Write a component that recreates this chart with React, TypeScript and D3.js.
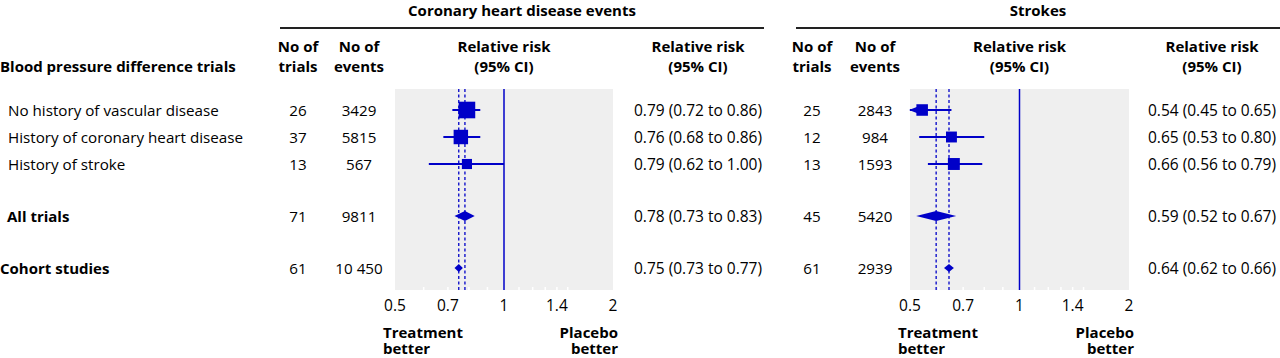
import React from "react";
import * as d3 from "d3";

const categories = [
  "No history of vascular disease",
  "History of coronary heart disease",
  "History of stroke",
  "All trials",
  "Cohort studies",
];
const rowKinds = ["square", "square", "square", "diamond", "diamond"];
const boldRows = [false, false, false, true, true];

const chdTrials = [26, 37, 13, 71, 61];
const chdEvents = [3429, 5815, 567, 9811, 10450];
const chdRR = [0.79, 0.76, 0.79, 0.78, 0.75];
const chdLo = [0.72, 0.68, 0.62, 0.73, 0.73];
const chdHi = [0.86, 0.86, 1.0, 0.83, 0.77];

const strokeTrials = [25, 12, 13, 45, 61];
const strokeEvents = [2843, 984, 1593, 5420, 2939];
const strokeRR = [0.54, 0.65, 0.66, 0.59, 0.64];
const strokeLo = [0.45, 0.53, 0.56, 0.52, 0.62];
const strokeHi = [0.65, 0.8, 0.79, 0.67, 0.66];

const tickValues = [0.5, 0.7, 1, 1.4, 2];
const minorTicks = [0.6, 0.7, 0.8, 0.9, 1.1, 1.2, 1.3, 1.4, 1.5];
const domain: [number, number] = [0.5, 2];

const FONT = "'Open Sans', Lato, sans-serif";
const BOLD_SIZE = 15;
const BODY_SIZE = 15.2;
const NUM_SIZE = 15.5;
const BLUE = "#0000c8";

const rowY = [110, 137, 164, 216, 268];
const plotTop = 89;
const plotBottom = 290;

const fmtEvents = (n: number) =>
  n >= 10000 ? d3.format(",")(n).replace(/,/g, " ") : String(n);
const f2 = d3.format(".2f");

function TwoLine(props: { x: number; y: number; gap: number; a: string; b: string; anchor: string }) {
  return (
    <text x={props.x} y={props.y} textAnchor={props.anchor} dominantBaseline="central" fontWeight={700} fontSize={BOLD_SIZE}>
      <tspan x={props.x} y={props.y}>{props.a}</tspan>
      <tspan x={props.x} y={props.y + props.gap}>{props.b}</tspan>
    </text>
  );
}

type PanelProps = {
  title: string;
  lineX0: number;
  lineX1: number;
  trialsX: number;
  eventsX: number;
  x0: number;
  x1: number;
  rrTextX: number;
  trials: number[];
  events: number[];
  rr: number[];
  lo: number[];
  hi: number[];
};

function Panel(p: PanelProps) {
  const x = d3.scaleLog().domain(domain).range([p.x0, p.x1]);
  const [dmin, dmax] = domain;
  const sizeOf = (i: number) => 7 * Math.sqrt(1 / Math.log(p.hi[i] / p.lo[i]));
  const headers: [number, string, string][] = [
    [p.trialsX, "No of", "trials"],
    [p.eventsX, "No of", "events"],
    [x(1), "Relative risk", "(95% CI)"],
    [p.rrTextX, "Relative risk", "(95% CI)"],
  ];
  return (
    <g>
      <text x={(p.lineX0 + p.lineX1) / 2} y={10} textAnchor="middle" dominantBaseline="central" fontWeight={700} fontSize={BOLD_SIZE}>
        {p.title}
      </text>
      <line x1={p.lineX0} x2={p.lineX1} y1={28} y2={28} stroke="#222" strokeWidth={2} />
      {headers.map(([cx, a, b], i) => (
        <TwoLine key={i} x={cx} y={46} gap={20} a={a} b={b} anchor="middle" />
      ))}
      <rect x={x(dmin)} y={plotTop} width={x(dmax) - x(dmin)} height={plotBottom - plotTop} fill="#efefef" />
      {minorTicks.map((v) => (
        <line key={v} x1={x(v)} x2={x(v)} y1={plotBottom - 3} y2={plotBottom} stroke="#fff" strokeWidth={1.5} />
      ))}
      <line x1={x(1)} x2={x(1)} y1={plotTop} y2={plotBottom} stroke={BLUE} strokeWidth={1.5} />
      {[3, 4].map((i) => (
        <line key={i} x1={x(p.rr[i])} x2={x(p.rr[i])} y1={plotTop} y2={plotBottom} stroke={BLUE} strokeWidth={1.3} strokeDasharray="3,2.5" />
      ))}
      {categories.map((c, i) => {
        const y = rowY[i];
        const lo = Math.max(p.lo[i], dmin);
        const hi = Math.min(p.hi[i], dmax);
        if (rowKinds[i] === "square") {
          const s = sizeOf(i);
          return (
            <g key={c}>
              <line x1={x(lo)} x2={x(hi)} y1={y} y2={y} stroke={BLUE} strokeWidth={2} />
              {p.lo[i] < dmin && (
                <path d={`M${x(dmin) - 1},${y} L${x(dmin) + 8},${y - 3.5} L${x(dmin) + 8},${y + 3.5} Z`} fill={BLUE} />
              )}
              <rect x={x(p.rr[i]) - s / 2} y={y - s / 2} width={s} height={s} fill={BLUE} />
            </g>
          );
        }
        const h = i === 3 ? 5 : 4;
        return (
          <path
            key={c}
            d={`M${x(lo)},${y} L${x(p.rr[i])},${y - h} L${x(hi)},${y} L${x(p.rr[i])},${y + h} Z`}
            fill={BLUE}
          />
        );
      })}
      {categories.map((c, i) => (
        <g key={c} fontSize={BODY_SIZE}>
          <text x={p.trialsX} y={rowY[i]} textAnchor="middle" dominantBaseline="central">{p.trials[i]}</text>
          <text x={p.eventsX} y={rowY[i]} textAnchor="middle" dominantBaseline="central">{fmtEvents(p.events[i])}</text>
          <text x={p.rrTextX} y={rowY[i]} textAnchor="middle" dominantBaseline="central" fontSize={NUM_SIZE}>
            {`${f2(p.rr[i])} (${f2(p.lo[i])} to ${f2(p.hi[i])})`}
          </text>
        </g>
      ))}
      {tickValues.map((v) => (
        <text key={v} x={x(v)} y={305} textAnchor="middle" dominantBaseline="central" fontSize={NUM_SIZE}>
          {String(v)}
        </text>
      ))}
      <TwoLine x={x(dmin) - 12} y={332} gap={16} a="Treatment" b="better" anchor="start" />
      <TwoLine x={x(dmax) + 5} y={332} gap={16} a="Placebo" b="better" anchor="end" />
    </g>
  );
}

export default function App() {
  return (
    <svg
      width={1280}
      height={358}
      style={{ position: "absolute", left: 0, top: 0, background: "#fff" }}
      fontFamily={FONT}
      fill="#000"
    >
      <text x={0} y={66} fontWeight={700} fontSize={BOLD_SIZE} dominantBaseline="central">
        Blood pressure difference trials
      </text>
      {categories.map((c, i) => (
        <text
          key={c}
          x={i < 3 ? 8 : i === 3 ? 7 : 0}
          y={rowY[i]}
          fontWeight={boldRows[i] ? 700 : 400}
          fontSize={boldRows[i] ? BOLD_SIZE : BODY_SIZE}
          dominantBaseline="central"
        >
          {c}
        </text>
      ))}
      <Panel
        title="Coronary heart disease events"
        lineX0={280}
        lineX1={764}
        trialsX={298}
        eventsX={359}
        x0={395}
        x1={613}
        rrTextX={698}
        trials={chdTrials}
        events={chdEvents}
        rr={chdRR}
        lo={chdLo}
        hi={chdHi}
      />
      <Panel
        title="Strokes"
        lineX0={796}
        lineX1={1280}
        trialsX={812}
        eventsX={875}
        x0={910}
        x1={1129}
        rrTextX={1212}
        trials={strokeTrials}
        events={strokeEvents}
        rr={strokeRR}
        lo={strokeLo}
        hi={strokeHi}
      />
    </svg>
  );
}
